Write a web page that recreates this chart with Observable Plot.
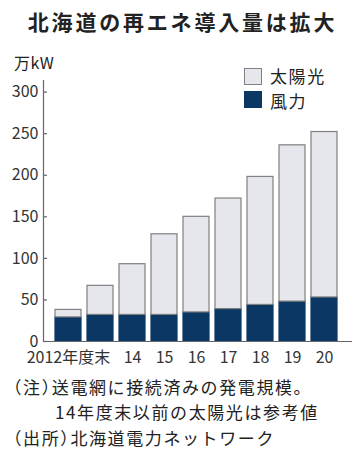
<!DOCTYPE html>
<html><head><meta charset="utf-8">
<script src="https://cdn.jsdelivr.net/npm/d3@7"></script>
<script src="https://cdn.jsdelivr.net/npm/@observablehq/plot@0.6"></script>
<style>
html,body{margin:0;padding:0;background:#fff;}
#wrap{position:relative;width:362px;height:459px;font-family:"Noto Sans CJK JP",sans-serif;color:#222;overflow:hidden;}
.abs{position:absolute;white-space:nowrap;}
#title{left:0;top:0;width:362px;text-align:center;font-size:21px;line-height:42px;font-weight:bold;letter-spacing:2.8px;padding-left:3px;box-sizing:border-box;}
#chart{position:absolute;left:0;top:42px;}
.sw{position:absolute;width:18px;height:17px;box-sizing:border-box;}
.lg{font-size:17px;line-height:20px;letter-spacing:1.6px;}
.note{font-size:17px;line-height:20px;letter-spacing:1.6px;font-feature-settings:"halt";}
</style></head>
<body>
<div id="wrap">
  <div id="title" class="abs">北海道の再エネ導入量は拡大</div>
  <div class="abs" style="left:14px;top:52px;font-size:16px;line-height:20px;letter-spacing:0.5px;">万kW</div>
  <div id="chart"></div>
  <div class="sw" style="left:244px;top:68px;background:#e6e7ec;border:1px solid #808080;"></div>
  <div class="abs lg" style="left:270px;top:66px;">太陽光</div>
  <div class="sw" style="left:244px;top:91px;background:#0a3764;"></div>
  <div class="abs lg" style="left:270px;top:91px;">風力</div>
  <div class="abs note" style="left:13px;top:377px;">（注）送電網に接続済みの発電規模。</div>
  <div class="abs note" style="left:55px;top:402px;">14年度末以前の太陽光は参考値</div>
  <div class="abs note" style="left:13px;top:428px;">（出所）北海道電力ネットワーク</div>
</div>
<script>
const years = ["2012","2013","2014","2015","2016","2017","2018","2019","2020"];
const xLabels = ["2012年度末","","14","15","16","17","18","19","20"];
const wind  = [29, 32, 32, 32, 35, 39, 44, 48, 53];
const solar = [9, 35, 61, 97, 115, 133, 154, 188, 199];
const yTicks = [0, 50, 100, 150, 200, 250, 300];
const seriesNames = ["風力", "太陽光"];
const fills = {"風力": "#0a3764", "太陽光": "#e6e7ec"};
const strokes = {"風力": "#0a3764", "太陽光": "#808080"};

const rows = [];
years.forEach((y, i) => {
  rows.push({year: y, type: "風力", value: wind[i]});
  rows.push({year: y, type: "太陽光", value: solar[i]});
});
const labelOf = Object.fromEntries(years.map((y, i) => [y, xLabels[i]]));

const chart = Plot.plot({
  width: 362,
  height: 330,
  marginLeft: 43,
  marginRight: 10,
  marginTop: 38,
  marginBottom: 31,
  style: {fontFamily: "'Noto Sans CJK JP', sans-serif", fontSize: "16px", color: "#333", background: "transparent"},
  x: {domain: years, paddingInner: 0.2, paddingOuter: 0.3175, align: 0.43, axis: null},
  y: {domain: [0, 314], axis: null},
  marks: [
    Plot.barY(rows, {
      x: "year", y: "value", z: "type",
      order: seriesNames,
      fill: d => fills[d.type],
      stroke: d => strokes[d.type],
      strokeWidth: 1.2
    }),
    Plot.ruleY([0], {stroke: "#666", strokeWidth: 1.2}),
    Plot.frame({anchor: "left", stroke: "#666", strokeWidth: 1.2}),
    Plot.tickY(yTicks, {y: d => d, stroke: "#666", strokeWidth: 1.2, insetRight: 305}),
    Plot.axisY(yTicks, {tickSize: 0, tickPadding: 5, fontSize: 16, fill: "#333", label: null}),
    Plot.axisX(years, {tickSize: 0, tickPadding: 10, fontSize: 16, fill: "#333", label: null, tickFormat: d => labelOf[d]})
  ]
});
document.getElementById("chart").appendChild(chart);
</script>
</body></html>
